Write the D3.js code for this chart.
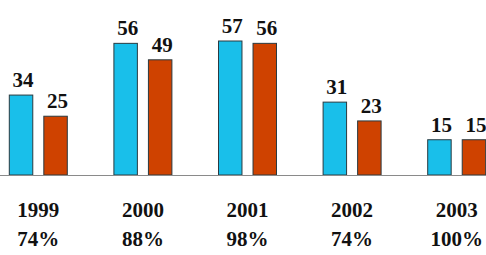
<!DOCTYPE html>
<html>
<head>
<meta charset="utf-8">
<script src="https://cdn.jsdelivr.net/npm/d3@7"></script>
<style>
  body { margin: 0; background: #fff; }
</style>
</head>
<body>
<script>
var years = ["1999", "2000", "2001", "2002", "2003"];
var percents = ["74%", "88%", "98%", "74%", "100%"];
var seriesA = [34, 56, 57, 31, 15];
var seriesB = [25, 49, 56, 23, 15];
var seriesColors = ["#19BFEA", "#CF4200"];

var width = 486, height = 255, baseY = 175;

var svg = d3.select("body")
  .append("svg")
    .attr("width", width)
    .attr("height", height);

var x0 = d3.scaleBand()
  .domain(years)
  .range([-14, 509]);

var x1 = d3.scaleBand()
  .domain([0, 1])
  .range([-29, 29])
  .paddingInner(0.32);

var y = d3.scaleLinear()
  .domain([0, 57])
  .range([baseY, baseY - 134]);

// all labels share the same bold serif look
function label(sel) {
  return sel
    .attr("font-family", "Liberation Serif")
    .attr("font-weight", "bold")
    .attr("font-size", 21)
    .attr("text-anchor", "middle")
    .attr("fill", "#111");
}

var groups = svg.selectAll("g.year")
    .data(years)
    .enter()
  .append("g")
    .attr("class", "year")
    .attr("transform", function(d) { return "translate(" + (x0(d) + x0.bandwidth() / 2) + ",0)"; });

var bars = groups.selectAll("g.bar")
    .data(function(d, i) { return [seriesA[i], seriesB[i]]; })
    .enter()
  .append("g")
    .attr("class", "bar");

bars.append("rect")
    .attr("x", function(d, j) { return x1(j); })
    .attr("y", function(d) { return y(d); })
    .attr("width", x1.bandwidth())
    .attr("height", function(d) { return baseY - y(d); })
    .attr("fill", function(d, j) { return seriesColors[j]; })
    .attr("stroke", "#2a3a40")
    .attr("stroke-width", 1);

bars.append("text")
    .call(label)
    .attr("x", function(d, j) { return x1(j) + x1.bandwidth() / 2 + 2; })
    .attr("y", function(d) { return y(d) - 8; })
    .text(function(d) { return d; });

svg.append("line")
    .attr("x1", 0)
    .attr("x2", width)
    .attr("y1", baseY + 0.5)
    .attr("y2", baseY + 0.5)
    .attr("stroke", "#8a8a8a")
    .attr("stroke-width", 1);

groups.append("text")
    .call(label)
    .attr("y", 217)
    .text(function(d) { return d; });

groups.append("text")
    .call(label)
    .attr("y", 246)
    .text(function(d, i) { return percents[i]; });
</script>
</body>
</html>
